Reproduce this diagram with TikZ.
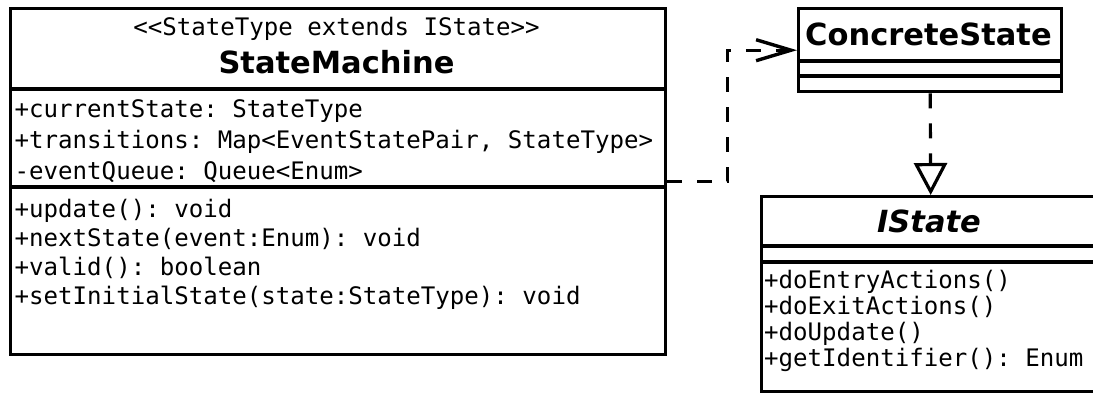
\documentclass[tikz,border=0pt]{standalone}
\usepackage{fontspec}
\setsansfont{DejaVu Sans}
\setmonofont{DejaVu Sans Mono}
\usetikzlibrary{arrows.meta}

\begin{document}
\begin{tikzpicture}[x=1pt,y=-1pt,
  classbox/.style={draw, line width=3.4pt, inner sep=0pt, anchor=north west, fill=white},
  sepline/.style={line width=3.4pt},
  member/.style={anchor=base west, inner sep=0pt, font=\fontsize{24.1}{28}\selectfont\ttfamily},
  stereo/.style={anchor=base, inner sep=0pt, font=\fontsize{24.1}{28}\selectfont\ttfamily},
  classname/.style={anchor=base, inner sep=0pt, font=\fontsize{30.5}{36}\selectfont\sffamily\bfseries},
  depline/.style={line width=3.2pt, dash pattern=on 15pt off 15pt},
]
\clip (0,0) rectangle (1093,392);
\fill[white] (0,0) rectangle (1093,392);

% StateMachine class
\node[classbox, minimum width=655pt, minimum height=346pt] (sm) at (9,7) {};
\draw[sepline] (9,89) -- (664,89);
\draw[sepline] (9,187) -- (664,187);
\node[stereo] (smstereo) at (336.5,35) {<<StateType extends IState>>};
\node[classname] (smname) at (336.5,73) {StateMachine};
\node[member] (sma1) at (14.5,117) {+currentState: StateType};
\node[member] (sma2) at (14.5,148) {+transitions: Map<EventStatePair, StateType>};
\node[member] (sma3) at (14.5,179) {-eventQueue: Queue<Enum>};
\node[member] (smo1) at (14.5,217) {+update(): void};
\node[member] (smo2) at (14.5,246) {+nextState(event:Enum): void};
\node[member] (smo3) at (14.5,275) {+valid(): boolean};
\node[member] (smo4) at (14.5,304) {+setInitialState(state:StateType): void};

% ConcreteState class
\node[classbox, minimum width=263pt, minimum height=83pt] (cs) at (797,7) {};
\draw[sepline] (797,61) -- (1060,61);
\draw[sepline] (797,76) -- (1060,76);
\node[classname] (csname) at (928.5,45) {ConcreteState};

% IState interface
\node[classbox, minimum width=338pt, minimum height=195pt] (is) at (760,195) {};
\draw[sepline] (760,246) -- (1098,246);
\draw[sepline] (760,262) -- (1098,262);
\node[classname, font=\fontsize{30.5}{36}\selectfont\sffamily\bfseries\itshape] (isname) at (929,232) {IState};
\node[member] (iso1) at (764,288) {+doEntryActions()};
\node[member] (iso2) at (764,314) {+doExitActions()};
\node[member] (iso3) at (764,340) {+doUpdate()};
\node[member] (iso4) at (764,366) {+getIdentifier(): Enum};

% dependency and realization
\draw[depline, -{Straight Barb[length=35pt, width=21pt, line width=3.4pt]}]
  (sm.east) -- ++(60,0) |- (cs.west);
\draw[depline, -{Triangle[open, length=32pt, width=33pt, line width=3.2pt]}]
  (cs.south) -- (is.north);
\end{tikzpicture}
\end{document}
